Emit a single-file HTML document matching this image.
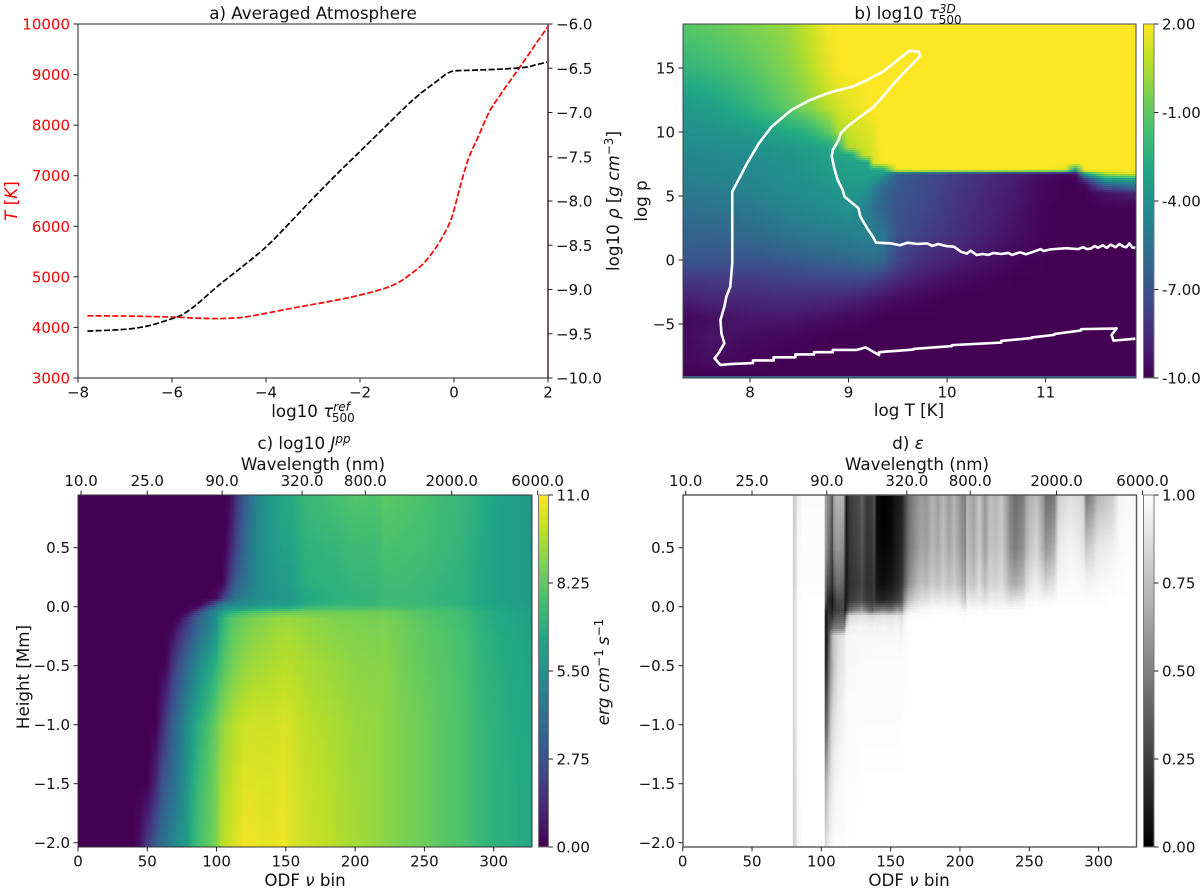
<!DOCTYPE html>
<html lang="en">
<head>
<meta charset="utf-8">
<title>Averaged atmosphere and opacity panels</title>
<style>
html,body{margin:0;padding:0;background:#fff;}
svg{display:block;}
text{font-family:"DejaVu Sans","Liberation Sans",sans-serif;font-size:15px;fill:#111;}
.lab{font-size:16.7px;}
.it{font-style:italic;}
</style>
</head>
<body>
<svg id="fig" xmlns="http://www.w3.org/2000/svg" width="1200" height="889" viewBox="0 0 1200 889">
<defs id="defs"></defs>
<g id="panel-b-heat"></g>
<g id="panel-c-heat"></g>
<g id="panel-d-heat"></g>
<g id="marks"></g>
<g id="axes"></g>

<text class="lab" x="313" y="19" text-anchor="middle">a) Averaged Atmosphere</text>
<text class="lab" x="313" y="417" text-anchor="middle">log10 <tspan class="it">τ</tspan><tspan class="it" style="font-size:12px" dy="-6">ref</tspan><tspan style="font-size:12px" dx="-18" dy="11">500</tspan></text>
<text class="lab" transform="translate(17,201) rotate(-90)" text-anchor="middle" style="fill:#ff0000"><tspan class="it" style="fill:#ff0000">T</tspan> [<tspan class="it" style="fill:#ff0000">K</tspan>]</text>
<text class="lab" transform="translate(619,201) rotate(-90)" text-anchor="middle">log10 <tspan class="it">ρ</tspan> [<tspan class="it">g cm</tspan><tspan style="font-size:12px" dy="-6">−3</tspan><tspan dy="6">]</tspan></text>

<text class="lab" x="908" y="19" text-anchor="middle">b) log10 <tspan class="it">τ</tspan><tspan class="it" style="font-size:12px" dy="-6">3D</tspan><tspan style="font-size:12px" dx="-17" dy="11">500</tspan></text>
<text class="lab" x="909" y="416" text-anchor="middle">log T [K]</text>
<text class="lab" transform="translate(647,201) rotate(-90)" text-anchor="middle">log p</text>

<text class="lab" x="304" y="449" text-anchor="middle">c) log10 <tspan class="it">J</tspan><tspan class="it" style="font-size:12px" dy="-6">pp</tspan></text>
<text class="lab" x="313" y="470" text-anchor="middle">Wavelength (nm)</text>
<text class="lab" x="305" y="886" text-anchor="middle">ODF <tspan class="it">ν</tspan> bin</text>
<text class="lab" transform="translate(29,677) rotate(-90)" text-anchor="middle">Height [Mm]</text>
<text class="lab" transform="translate(609,672) rotate(-90)" text-anchor="middle"><tspan class="it">erg cm</tspan><tspan style="font-size:12px" dy="-6">−1</tspan><tspan class="it" dx="4" dy="6">s</tspan><tspan style="font-size:12px" dy="-6">−1</tspan></text>

<text class="lab" x="908" y="449" text-anchor="middle">d) <tspan class="it">ε</tspan></text>
<text class="lab" x="917" y="470" text-anchor="middle">Wavelength (nm)</text>
<text class="lab" x="909" y="886" text-anchor="middle">ODF <tspan class="it">ν</tspan> bin</text>
</svg>

<script>
/* ---------- panel a data ---------- */
const tauT = [-7.8,-7,-6,-5.5,-5,-4.5,-4,-3.5,-3,-2.5,-2,-1.5,-1.2,-1,-0.7,-0.5,-0.3,-0.1,0,0.1,0.3,0.5,0.75,1,1.25,1.5,1.75,2];
const temperature = [4230,4225,4205,4185,4175,4200,4280,4370,4455,4540,4640,4765,4880,5000,5220,5430,5700,6050,6320,6680,7320,7740,8260,8620,8950,9280,9620,9950];
const tauRho = [-7.8,-7,-6.5,-6,-5.8,-5.5,-5,-4.5,-4,-3.5,-3,-2.5,-2,-1.5,-1,-0.7,-0.5,-0.3,-0.15,0,0.25,0.5,1,1.5,1.75,2];
const logRho = [-9.47,-9.45,-9.41,-9.33,-9.29,-9.18,-8.95,-8.74,-8.52,-8.25,-7.97,-7.7,-7.44,-7.18,-6.92,-6.78,-6.7,-6.62,-6.56,-6.53,-6.525,-6.52,-6.51,-6.49,-6.46,-6.43];
const aXTicks = [-8,-6,-4,-2,0,2];
const aTTicks = [3000,4000,5000,6000,7000,8000,9000,10000];
const aRTicks = [-10,-9.5,-9,-8.5,-8,-7.5,-7,-6.5,-6];

/* ---------- panel b data ---------- */
const bLogT = [7.32,7.6,8.0,8.4,8.6,8.8,8.9,9.0,9.05,9.15,9.2,9.25,9.3,9.35,9.5,9.75,10,10.3,10.7,11,11.2,11.3,11.4,11.6,11.91];
const bLogP = [18.44,15,12,10,8.8,8.2,7.6,7.0,6.75,6.3,5.8,5.2,4,2,0,-1.5,-3,-4.5,-6,-8,-9,-9.02,-9.2];
const bTau = [
[-1.2,-0.9,-0.4,0.2,1,1.9,2,2,2,2,2,2,2,2,2,2,2,2,2,2,2,2,2,2,2],
[-2.2,-1.9,-1.2,-0.2,0.6,1.5,1.95,2,2,2,2,2,2,2,2,2,2,2,2,2,2,2,2,2,2],
[-3.6,-3.3,-2.2,-0.9,-0.1,0.8,1.2,1.5,1.6,1.8,1.95,2,2,2,2,2,2,2,2,2,2,2,2,2,2],
[-4,-3.9,-3.5,-2.8,-2.3,-1,0.4,0.9,1.05,1.3,1.4,1.5,1.9,2,2,2,2,2,2,2,2,2,2,2,2],
[-4.3,-4.2,-4,-3.6,-3.3,-2.8,-2.4,0.6,0.8,1.1,1.25,1.4,1.8,2,2,2,2,2,2,2,2,2,2,2,2],
[-4.5,-4.4,-4.2,-3.8,-3.5,-3.1,-2.9,-2.8,-2.4,0.9,1.1,1.3,1.7,2,2,2,2,2,2,2,2,2,2,2,2],
[-4.6,-4.5,-4.3,-3.9,-3.6,-3.3,-3.2,-3.1,-3.1,-3.1,-2.8,1.2,1.6,2,2,2,2,2,2,2,2,2,2,2,2],
[-4.7,-4.6,-4.4,-4,-3.7,-3.4,-3.3,-3.2,-3.2,-3.2,-3.2,-3.1,-3.1,-3,2,2,2,2,2,2,1.4,-3.5,2,2,2],
[-4.8,-4.7,-4.4,-4,-3.8,-3.5,-3.4,-3.3,-3.3,-3.3,-3.3,-3.2,-3.2,-3.4,-6.4,-7,-7.6,-8.3,-9,-9.6,-9.8,-9.5,-3,0.5,1.5],
[-4.9,-4.8,-4.5,-4.1,-3.9,-3.6,-3.5,-3.4,-3.4,-3.4,-3.4,-3.6,-4,-4.8,-6.5,-7.1,-7.7,-8.4,-9.1,-9.7,-9.9,-9.9,-8,-3.5,-3],
[-5,-4.9,-4.6,-4.2,-4,-3.7,-3.6,-3.6,-3.6,-3.6,-3.9,-4.5,-5.1,-5.7,-6.6,-7.2,-7.8,-8.4,-9.1,-9.8,-10,-10,-9.8,-6.5,-5.5],
[-5.2,-5.1,-4.8,-4.3,-4.1,-3.9,-3.8,-3.7,-3.8,-4,-4.4,-5,-5.5,-6,-6.7,-7.3,-7.9,-8.5,-9.2,-9.8,-10,-10,-10,-9.4,-8.8],
[-5.6,-5.5,-5.2,-4.6,-4.4,-4.2,-4.1,-4,-4.2,-4.6,-5,-5.5,-5.9,-6.2,-6.9,-7.4,-8,-8.6,-9.3,-9.9,-10,-10,-10,-10,-10],
[-6.2,-6.2,-5.9,-5.4,-5.2,-5,-4.9,-4.8,-4.7,-4.7,-4.8,-4.9,-5.1,-5.3,-7,-7.8,-8.2,-8.8,-9.5,-9.9,-10,-10,-10,-10,-10],
[-6.8,-6.9,-6.9,-6.6,-6.4,-6.2,-6.1,-6,-5.9,-5.8,-5.8,-5.7,-5.8,-5.9,-7.5,-8.4,-8.8,-9.3,-9.8,-10,-10,-10,-10,-10,-10],
[-8,-7.9,-7.9,-7.7,-7.6,-7.5,-7.4,-7.4,-7.4,-7.5,-7.6,-7.7,-7.9,-8,-8.6,-9.1,-9.5,-9.8,-10,-10,-10,-10,-10,-10,-10],
[-8.9,-8.7,-8.6,-8.5,-8.5,-8.6,-8.7,-8.8,-8.9,-9,-9.1,-9.2,-9.3,-9.4,-9.6,-9.8,-10,-10,-10,-10,-10,-10,-10,-10,-10],
[-9.8,-9.5,-9.2,-9.2,-9.4,-9.5,-9.6,-9.7,-9.7,-9.8,-9.8,-9.9,-9.9,-10,-10,-10,-10,-10,-10,-10,-10,-10,-10,-10,-10],
[-9.7,-9.3,-9.6,-9.8,-9.9,-10,-10,-10,-10,-10,-10,-10,-10,-10,-10,-10,-10,-10,-10,-10,-10,-10,-10,-10,-10],
[-9.8,-9.6,-9.9,-10,-10,-10,-10,-10,-10,-10,-10,-10,-10,-10,-10,-10,-10,-10,-10,-10,-10,-10,-10,-10,-10],
[-10,-10,-10,-10,-10,-10,-10,-10,-10,-10,-10,-10,-10,-10,-10,-10,-10,-10,-10,-10,-10,-10,-10,-10,-10],
[-6.5,-6.5,-6.5,-6.5,-6.5,-6.5,-6.5,-6.5,-6.5,-6.5,-6.5,-6.5,-6.5,-6.5,-6.5,-6.5,-6.5,-6.5,-6.5,-6.5,-6.5,-6.5,-6.5,-6.5,-6.5],
[-6,-6,-6,-6,-6,-6,-6,-6,-6,-6,-6,-6,-6,-6,-6,-6,-6,-6,-6,-6,-6,-6,-6,-6,-6]
];
const contourLogT = [11.91,11.88,11.85,11.82,11.79,11.75,11.71,11.66,11.62,11.58,11.53,11.5,11.46,11.42,11.38,11.33,11.21,11.05,10.98,10.95,10.86,10.8,10.74,10.66,10.62,10.55,10.47,10.42,10.36,10.3,10.24,10.2,10.14,10.07,9.98,9.91,9.85,9.8,9.7,9.6,9.52,9.43,9.28,9.25,9.19,9.12,9.1,9.04,8.96,8.94,8.89,8.86,8.83,8.84,8.9,8.92,9,9.12,9.25,9.35,9.43,9.54,9.73,9.71,9.62,9.5,9.35,9.19,9.04,8.84,8.77,8.61,8.42,8.22,8.09,7.97,7.9,7.82,7.82,7.8,7.76,7.74,7.7,7.71,7.74,7.68,7.64,7.7,7.8,8.03,8.03,8.24,8.24,8.46,8.46,8.65,8.65,8.84,8.84,9.08,9.14,9.17,9.31,9.31,9.66,9.66,10.05,10.05,10.55,10.55,10.86,10.86,11.09,11.09,11.36,11.36,11.69,11.72,11.67,11.69,11.91];
const contourLogP = [0.96,0.98,1.3,1,1.04,1.25,1,1.2,0.95,1.15,0.95,1.1,0.9,0.85,1,0.85,0.92,0.83,0.7,0.85,0.6,0.45,0.6,0.4,0.55,0.47,0.55,0.4,0.47,0.39,0.73,0.5,0.65,1.04,1.1,1.25,1.1,1.3,1.25,1.35,1.15,1.3,1.35,1.77,2.47,3.39,4.04,4.43,4.95,5.47,6.25,7.03,8.07,8.59,9.38,9.9,10.5,11.2,11.93,12.76,13.54,14.45,15.96,16.28,16.35,15.63,14.71,14.06,13.54,13.15,12.97,12.5,11.72,10.42,9.11,7.55,6.51,5.34,-0.26,-2.08,-2.86,-3.65,-4.69,-5.73,-6.51,-7.29,-7.68,-8.2,-8.13,-8.05,-7.85,-7.85,-7.6,-7.6,-7.38,-7.38,-7.2,-7.2,-7.03,-7.03,-6.9,-6.82,-7.42,-7.2,-7,-6.95,-6.72,-6.65,-6.45,-6.32,-6.1,-6.05,-5.85,-5.78,-5.5,-5.4,-5.36,-5.34,-5.86,-6.3,-6.15];
const bXTicks = [8,9,10,11];
const bYTicks = [-5,0,5,10,15];
const bCbarTicks = [-10,-7,-4,-1,2];
const bCbarLabels = ["-10.0","-7.00","-4.00","-1.00","2.00"];

/* ---------- panel c data ---------- */
const cBins = [0,40,44,50,56,60,64,68,72,78,84,88,95,100,103,106,110,115,120,125,133,140,148,153,163,170,185,200,217,220,236,250,260,280,290,300,315,327.5];
const cHeights = [0.947,0.5,0.2,0.07,0.02,-0.02,-0.05,-0.1,-0.2,-0.5,-1,-1.5,-2.04];
const cJ = [
[0,0,0,0,0,0,0,0,0,0,0,0,0,0,0,0,0.3,1.8,3.2,4.2,5.5,6,6.6,6.6,7.3,7.4,7.7,8,7.9,8.2,8,7.8,7.5,7.2,6.8,6.4,6.1,5.9],
[0,0,0,0,0,0,0,0,0,0,0,0,0,0,0,0,1,2.5,3.6,4.5,5.5,5.9,6.3,6.3,7,7.1,7.2,7.5,7.5,7.8,7.7,7.6,7.4,7.1,6.7,6.3,6.1,5.9],
[0,0,0,0,0,0,0,0,0,0,0,0,0,0,0,0.6,2.2,3.4,4.1,4.7,5.4,5.7,6,6,6.8,6.9,7,7.2,7.3,7.5,7.5,7.4,7.2,7,6.6,6.3,6.1,5.9],
[0,0,0,0,0,0,0,0,0,0,0,0,0,0.4,1.4,2.4,3.5,4.4,4.8,5.1,5.4,5.6,5.8,5.8,6.5,6.7,6.9,7.1,7.2,7.4,7.4,7.3,7.1,6.9,6.6,6.3,6.1,5.9],
[0,0,0,0,0,0,0,0,0,0,0,0,1.5,3.2,4,4.7,5.1,5.3,5.4,5.6,5.8,6,6.1,6.1,6.7,6.9,7.1,7.2,7.3,7.5,7.4,7.4,7.2,7,6.6,6.4,6.2,5.9],
[0,0,0,0,0,0,0,0,0,0,0.3,1.4,3.6,4.6,5,5.4,5.9,6.2,6.4,6.6,6.8,7,7.1,7.2,7.7,7.8,7.9,8,8,8.1,7.8,7.7,7.6,7.2,6.8,6.5,6.3,6],
[0,0,0,0,0,0,0,0,0,0.2,1.6,2.8,4.5,5.3,6.1,6.6,7,7.4,7.7,7.9,8.2,8.4,8.6,8.6,8.6,8.6,8.6,8.6,8.5,8.6,8.3,8,7.9,7.5,7,6.7,6.4,6.2],
[0,0,0,0,0,0,0,0,0.1,1.3,2.8,3.6,4.6,5.6,6.8,7.3,7.9,8.2,8.5,8.7,8.9,9.1,9.3,9.3,9.2,9.1,8.9,8.8,8.7,8.8,8.4,8.1,7.9,7.5,7,6.7,6.4,6.2],
[0,0,0,0,0,0,0,0.2,1,2.2,3.2,3.9,5,5.8,7,7.5,8.1,8.4,8.7,8.9,9.1,9.3,9.5,9.5,9.3,9.2,9,8.9,8.8,8.9,8.5,8.2,8,7.6,7.1,6.8,6.5,6.3],
[0,0,0,0,0,0,0.3,1.6,2.5,3.7,4.7,5.4,6.4,7.1,7.7,8.1,8.5,8.9,9.2,9.4,9.5,9.6,9.8,9.8,9.6,9.5,9.3,9.1,9,9.1,8.6,8.3,8.1,7.7,7.2,6.9,6.6,6.4],
[0,0,0,0,0,1,2.2,3.2,4,5.1,6.3,7,7.9,8.5,9,9.3,9.6,9.9,10.1,10.2,10.2,10.2,10.4,10.3,9.9,9.8,9.6,9.3,9.2,9.1,8.8,8.5,8.2,7.8,7.3,7,6.7,6.5],
[0,0,0,0,1.2,2.6,3.3,3.9,4.5,5.6,6.9,7.5,8.2,8.8,9.4,9.6,9.9,10.2,10.5,10.5,10.4,10.4,10.6,10.4,10.1,10,9.7,9.4,9.2,9.1,8.8,8.5,8.2,7.8,7.3,7,6.8,6.6],
[0,0,0.4,2,3.2,3.9,4.4,4.9,5.4,6,7.2,7.7,8.3,8.9,9.6,9.9,10.2,10.5,10.8,10.8,10.6,10.6,10.8,10.5,10.2,10.1,9.8,9.5,9.2,9.1,8.8,8.5,8.2,7.8,7.3,7,6.8,6.6]
];
const odfTicks = [0,50,100,150,200,250,300];
const heightTicks = [-2,-1.5,-1,-0.5,0,0.5];
const wavelengthBins = [2.2,50,104,161.7,207.4,269.7,331.7];
const wavelengthLabels = ["10.0","25.0","90.0","320.0","800.0","2000.0","6000.0"];
const cCbarTicks = [0,2.75,5.5,8.25,11];
const cCbarLabels = ["0.00","2.75","5.50","8.25","11.0"];

/* ---------- panel d data ---------- */
const dBins = [0,79,80,82,83,85,86,87,102,103,105,107,108,109,112,116,117,118,120,124,128,129,133,137,138,140,145,150,155,158,160,163,167,172,176,180,184,188,192,196,200,204,205,210,214,218,222,226,230,234,236,240,246,248,255,260,262,268,271,280,289,291,296,299,310,315,327.5];
const dHeights = [0.947,0.5,0.2,0.05,-0.03,-0.08,-0.18,-0.25,-0.5,-1,-1.5,-2.04];
const dEps = [
[100,100,78,85,94, 95,97,98,98,62, 55,45,30,65,72, 70,40,8,22,28, 30,40,22,25,35, 3,0,2,10,12, 25,42,52,62,58, 70,62,72,60,70, 58,48,72,62,78, 58,75,70,78,62, 52,42,50,65,75, 60,42,45,80,88, 82,45,55,70,80, 96,98],
[100,100,80,88,97, 98,99,99,99,60, 48,35,25,55,60, 55,30,8,20,25, 28,35,20,22,30, 5,2,4,12,15, 28,45,55,65,62, 72,66,75,65,73, 62,52,75,66,80, 62,78,74,80,66, 56,48,58,72,84, 68,58,68,92,96, 90,78,84,90,94, 98,99],
[100,100,80,90,98, 99,99,99,99,45, 30,25,15,35,45, 40,20,8,18,22, 25,30,18,20,25, 8,5,8,15,20, 35,55,65,75,72, 80,75,82,75,80, 72,62,82,76,86, 74,85,82,86,76, 70,66,74,86,94, 86,82,88,97,98, 97,95,96,97,98, 99,100],
[100,100,82,92,98, 99,100,100,100,35, 15,15,5,20,30, 30,12,10,22,26, 30,32,22,22,25, 15,15,18,25,30, 55,75,82,88,88, 92,90,92,90,92, 88,78,92,90,94, 88,94,92,94,90, 88,90,92,96,98, 97,97,98,99,99, 99,99,99,99,100, 100,100],
[100,100,82,92,98, 99,100,100,100,10, 20,15,8,22,25, 28,10,18,40,50, 55,60,45,35,45, 45,50,45,60,55, 80,92,95,97,97, 98,98,98,98,98, 97,94,98,98,99, 98,99,99,99,99, 99,99,99,100,100, 100,100,100,100,100, 100,100,100,100,100, 100,100],
[100,100,82,92,98, 99,100,100,100,5, 20,22,18,30,35, 35,25,55,85,88, 90,90,88,85,88, 88,90,88,90,85, 95,98,99,99,99, 100,100,100,100,100, 100,98,100,100,100, 100,100,100,100,100, 100,100,100,100,100, 100,100,100,100,100, 100,100,100,100,100, 100,100],
[100,100,82,92,98, 99,100,100,100,5, 25,35,40,45,50, 50,60,90,94,95, 96,96,95,95,96, 95,96,95,96,93, 97,99,100,100,100, 100,100,100,100,100, 100,100,100,100,100, 100,100,100,100,100, 100,100,100,100,100, 100,100,100,100,100, 100,100,100,100,100, 100,100],
[100,100,82,92,98, 99,100,100,100,5, 25,60,70,78,85, 90,92,96,97,97, 97,97,97,97,97, 97,97,97,97,96, 98,99,100,100,100, 100,100,100,100,100, 100,100,100,100,100, 100,100,100,100,100, 100,100,100,100,100, 100,100,100,100,100, 100,100,100,100,100, 100,100],
[100,100,82,92,98, 99,100,100,100,8, 35,62,70,76,88, 92,94,96,97,97, 98,98,98,98,98, 99,99,99,99,99, 99,100,100,100,100, 100,100,100,100,100, 100,100,100,100,100, 100,100,100,100,100, 100,100,100,100,100, 100,100,100,100,100, 100,100,100,100,100, 100,100],
[100,100,82,92,98, 99,100,100,100,30, 55,80,85,88,93, 96,97,98,99,99, 99,99,99,99,99, 99,99,99,99,99, 100,100,100,100,100, 100,100,100,100,100, 100,100,100,100,100, 100,100,100,100,100, 100,100,100,100,100, 100,100,100,100,100, 100,100,100,100,100, 100,100],
[100,100,80,90,97, 99,100,100,100,65, 80,90,92,94,97, 98,99,99,99,99, 100,100,100,100,100, 100,100,100,100,100, 100,100,100,100,100, 100,100,100,100,100, 100,100,100,100,100, 100,100,100,100,100, 100,100,100,100,100, 100,100,100,100,100, 100,100,100,100,100, 100,100],
[100,100,80,88,95, 98,100,100,100,85, 92,96,97,98,99, 99,99,100,100,100, 100,100,100,100,100, 100,100,100,100,100, 100,100,100,100,100, 100,100,100,100,100, 100,100,100,100,100, 100,100,100,100,100, 100,100,100,100,100, 100,100,100,100,100, 100,100,100,100,100, 100,100]
];
const dCbarTicks = [0,0.25,0.5,0.75,1];
const dCbarLabels = ["0.00","0.25","0.50","0.75","1.00"];

/* ---------- helpers ---------- */
const NS = "http://www.w3.org/2000/svg";
const defs = document.getElementById("defs");
const marks = document.getElementById("marks");
const axes = document.getElementById("axes");
function mk(tag, attrs, parent) {
  const el = document.createElementNS(NS, tag);
  for (const k in attrs) el.setAttribute(k, attrs[k]);
  parent.appendChild(el);
  return el;
}
function linear(d0, d1, r0, r1) {
  const f = v => r0 + (v - d0) * (r1 - r0) / (d1 - d0);
  f.invert = p => d0 + (p - r0) * (d1 - d0) / (r1 - r0);
  return f;
}
const viridisStops = [[68,1,84],[72,36,117],[65,68,135],[53,95,141],[42,120,142],[33,145,140],[34,168,132],[68,191,112],[122,209,81],[189,223,38],[253,231,37]];
function viridis(t) {
  t = Math.max(0, Math.min(1, t)) * 10;
  const i = Math.min(9, Math.floor(t)), f = t - i;
  const a = viridisStops[i], b = viridisStops[i + 1];
  return "rgb(" + Math.round(a[0] + (b[0] - a[0]) * f) + "," + Math.round(a[1] + (b[1] - a[1]) * f) + "," + Math.round(a[2] + (b[2] - a[2]) * f) + ")";
}
function gray(t) {
  const g = Math.round(Math.max(0, Math.min(1, t)) * 255);
  return "rgb(" + g + "," + g + "," + g + ")";
}
function minus(s) { return String(s).replace("-", "\u2212"); }
let gradId = 0;

/* image-style renderer: each band is a rect with a horizontal gradient fed from the grid */
function heatmap(groupId, xs, ys, grid, toT, cmap, X, Y, x0, x1, y0, y1, step, maxGap) {
  const g = document.getElementById(groupId);
  for (let py = y0; py < y1; py += step) {
    const d = Y.invert(py + step / 2);
    let r = 0;
    while (r < ys.length - 2 && d < ys[r + 1]) r++;
    let f = (ys[r] - d) / (ys[r] - ys[r + 1]);
    f = Math.max(0, Math.min(1, f));
    const id = "grad" + (gradId++);
    const lg = mk("linearGradient", { id: id, gradientUnits: "userSpaceOnUse", x1: x0, x2: x1, y1: 0, y2: 0 }, defs);
    for (let c = 0; c < xs.length; c++) {
      const v = grid[r][c] + (grid[r + 1][c] - grid[r][c]) * f;
      const px = X(xs[c]);
      if (c > 0) {
        const pv = grid[r][c - 1] + (grid[r + 1][c - 1] - grid[r][c - 1]) * f;
        const ppx = X(xs[c - 1]);
        const n = Math.floor((px - ppx) / maxGap);
        if (Math.abs(v - pv) > 0) {
          for (let k = 1; k < n; k++) {
            const u = k / n;
            mk("stop", { offset: ((ppx + (px - ppx) * u) - x0) / (x1 - x0), "stop-color": cmap(toT(pv + (v - pv) * u)) }, lg);
          }
        }
      }
      mk("stop", { offset: (px - x0) / (x1 - x0), "stop-color": cmap(toT(v)) }, lg);
    }
    const rect = mk("rect", { x: x0, y: py, width: x1 - x0, height: step, fill: "url(#" + id + ")" }, g);
    
    
  }
}
function frame(x0, x1, y0, y1, color, sw) {
  const r = mk("rect", { x: x0, y: y0, width: x1 - x0, height: y1 - y0, fill: "none", stroke: color, "stroke-width": sw }, axes);
  
  
}
function xTicks(values, labels, X, yAxis, dir) {
  values.forEach((v, i) => {
    const px = X(v);
    const t = mk("line", { x1: px, x2: px, y1: yAxis, y2: yAxis + dir * 4.5, stroke: "#222", "stroke-width": 1 }, axes);
    
    
    const lab = mk("text", { x: px, y: dir > 0 ? yAxis + 19.5 : yAxis - 9, "text-anchor": "middle" }, axes);
    lab.textContent = labels[i];
    
    
  });
}
function yTicks(values, labels, Y, xAxis, dir, color, tx) {
  values.forEach((v, i) => {
    const py = Y(v);
    const t = mk("line", { x1: xAxis, x2: xAxis + dir * 4.5, y1: py, y2: py, stroke: "#222", "stroke-width": 1 }, axes);
    
    
    const lab = mk("text", { x: tx === undefined ? xAxis + dir * 8 : tx, y: py + 5.5, "text-anchor": dir < 0 ? "end" : "start", style: color ? "fill:" + color : "" }, axes);
    lab.textContent = labels[i];
    
    
  });
}
function polyline(xs, ys, X, Y, attrs, parent) {
  const pts = xs.map((x, i) => X(x).toFixed(2) + "," + Y(ys[i]).toFixed(2)).join(" ");
  return mk("polyline", Object.assign({ points: pts, fill: "none" }, attrs), parent);
}
/* smooth curve through the read points (matches the original's dense sampling) */
function curve(xs, ys, X, Y, attrs, parent) {
  const p = xs.map((x, i) => [X(x), Y(ys[i])]);
  let d = "M" + p[0][0].toFixed(2) + " " + p[0][1].toFixed(2);
  for (let i = 0; i < p.length - 1; i++) {
    const a = p[Math.max(0, i - 1)], b = p[i], c = p[i + 1], e = p[Math.min(p.length - 1, i + 2)];
    d += "C" + (b[0] + (c[0] - a[0]) / 6).toFixed(2) + " " + (b[1] + (c[1] - a[1]) / 6).toFixed(2) + " " +
         (c[0] - (e[0] - b[0]) / 6).toFixed(2) + " " + (c[1] - (e[1] - b[1]) / 6).toFixed(2) + " " +
         c[0].toFixed(2) + " " + c[1].toFixed(2);
  }
  return mk("path", Object.assign({ d: d, fill: "none" }, attrs), parent);
}
function colorbar(x0, x1, y0, y1, cmap, ticks, labels, lo, hi) {
  const id = "cbar" + (gradId++);
  const lg = mk("linearGradient", { id: id, x1: 0, x2: 0, y1: 1, y2: 0 }, defs);
  for (let i = 0; i <= 20; i++) mk("stop", { offset: i / 20, "stop-color": cmap(i / 20) }, lg);
  const r = mk("rect", { x: x0, y: y0, width: x1 - x0, height: y1 - y0, fill: "url(#" + id + ")", stroke: "#777", "stroke-width": 1 }, axes);
  
  
  yTicks(ticks, labels, linear(lo, hi, y1, y0), x1, 1);
}

/* ---------- panel scales ---------- */
const aX = linear(-8, 2, 78, 548), aT = linear(3000, 10000, 378, 24), aR = linear(-10, -6, 378, 24);
const bX = linear(8, 11, 750, 1045.6), bY = linear(0, 15, 260, 68);
const cX = linear(0, 300, 78, 493.7), cY = linear(0, 0.5, 606.7, 547.7);
const dX = linear(0, 300, 682.7, 1098.6), dY = linear(0, 0.5, 606.7, 547.7);

/* ---------- heatmaps ---------- */
heatmap("panel-b-heat", bLogT, bLogP, bTau, v => (v + 10) / 12, viridis, bX, bY, 683, 1136, 24, 378, 2, 6);
heatmap("panel-c-heat", cBins, cHeights, cJ, v => v / 11, viridis, cX, cY, 78, 532, 495, 847, 2, 6);
heatmap("panel-d-heat", dBins, dHeights, dEps, v => v / 100, gray, dX, dY, 683, 1136.5, 495, 847, 2, 50);

/* ---------- panel a ---------- */
const lineT = curve(tauT, temperature, aX, aT, { stroke: "#ff0000", "stroke-width": 1.7, "stroke-dasharray": "6,2.3" }, marks);


const lineRho = curve(tauRho, logRho, aX, aR, { stroke: "#000", "stroke-width": 1.7, "stroke-dasharray": "6,2.3" }, marks);


frame(78, 548, 24, 378, "#222", 1);
const rightSpine = mk("line", { x1: 548, x2: 548, y1: 24, y2: 378, stroke: "#7a5c5c", "stroke-width": 2 }, axes);


xTicks(aXTicks, aXTicks.map(minus), aX, 378, 1);
yTicks(aTTicks, aTTicks.map(String), aT, 78, -1, "#ff0000");
yTicks(aRTicks, aRTicks.map(v => minus(v.toFixed(1))), aR, 548, 1);

/* ---------- panel b ---------- */
const contour = polyline(contourLogT, contourLogP, bX, bY, { stroke: "#fff", "stroke-width": 2.6, "stroke-linejoin": "round" }, marks);


frame(683, 1136, 24, 378, "#444", 1);
xTicks(bXTicks, bXTicks.map(String), bX, 378, 1);
yTicks(bYTicks, bYTicks.map(minus), bY, 683, -1);
colorbar(1143.5, 1154, 24, 378, viridis, bCbarTicks, bCbarLabels, -10, 2);

/* ---------- panel c ---------- */
frame(78, 532, 495, 847, "#333", 1);
xTicks(odfTicks, odfTicks.map(String), cX, 847, 1);
xTicks(wavelengthBins, wavelengthLabels, cX, 495, -1);
yTicks(heightTicks, heightTicks.map(v => minus(v.toFixed(1))), cY, 78, -1);
colorbar(538.5, 548.5, 495, 847, viridis, cCbarTicks, cCbarLabels, 0, 11);

/* ---------- panel d ---------- */
frame(683, 1136.5, 495, 847, "#555", 1.4);
xTicks(odfTicks, odfTicks.map(String), dX, 847, 1);
xTicks(wavelengthBins, wavelengthLabels, dX, 495, -1);
yTicks(heightTicks, heightTicks.map(v => minus(v.toFixed(1))), dY, 683, -1);
colorbar(1143.5, 1154, 495, 847, gray, dCbarTicks, dCbarLabels, 0, 1);
</script>
</body>
</html>
